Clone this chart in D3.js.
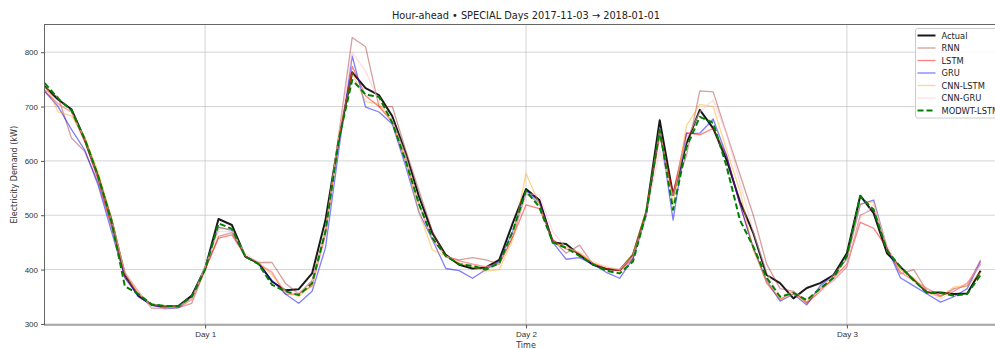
<!DOCTYPE html>
<html>
<head>
<meta charset="utf-8">
<script src="https://cdn.jsdelivr.net/npm/d3@7"></script>
<style>
  body { margin: 0; background: #fff; }
  svg { font-family: 'DejaVu Sans', sans-serif; }
</style>
</head>
<body>
<svg id="chart" width="995" height="349"></svg>
<script>
// hourly index 0..70, Day 1 starts at hour 12
const dayTicks = [12, 36, 60];
const dayLabels = ['Day 1', 'Day 2', 'Day 3'];
const yTicks = [300, 400, 500, 600, 700, 800];

const actual = [737, 713, 695, 639, 571, 491, 390, 352, 335, 332, 333, 352, 402, 493, 482, 424, 412, 378,
  362, 364, 393, 491, 640, 763, 734, 721, 682, 614, 534, 467, 427, 409, 402, 404, 418, 485,
  548, 528, 450, 447, 427, 409, 401, 399, 427, 507, 675, 537, 632, 694, 660, 602, 525,
  467, 390, 375, 347, 366, 375, 390, 430, 536, 504, 430, 405, 381, 358, 358, 355, 356, 398];
const rnn = [730, 718, 642, 617, 560, 480, 395, 360, 329, 328, 330, 338, 400, 461, 468, 425, 413, 413,
  375, 355, 380, 470, 650, 827, 810, 700, 700, 620, 545, 470, 423, 418, 422, 418, 410, 460,
  540, 522, 455, 430, 445, 410, 400, 398, 425, 505, 645, 540, 610, 729, 727, 650, 575,
  500, 410, 365, 360, 340, 365, 380, 405, 500, 512, 440, 392, 400, 360, 350, 365, 370, 418];
const lstm = [728, 705, 690, 635, 565, 480, 385, 355, 335, 332, 330, 345, 400, 458, 464, 425, 410, 395,
  355, 355, 370, 465, 640, 774, 720, 700, 672, 600, 520, 455, 425, 416, 410, 405, 410, 460,
  519, 512, 455, 438, 430, 412, 402, 398, 420, 505, 650, 540, 652, 648, 660, 610, 520,
  440, 375, 345, 360, 338, 360, 385, 410, 487, 476, 440, 395, 380, 365, 352, 360, 375, 410];
const gru = [728, 700, 658, 620, 555, 470, 385, 350, 335, 328, 330, 350, 405, 478, 472, 425, 410, 380,
  355, 338, 360, 440, 620, 793, 699, 690, 668, 590, 505, 455, 402, 398, 384, 400, 415, 470,
  545, 525, 450, 419, 422, 410, 395, 384, 420, 500, 660, 491, 650, 651, 677, 610, 520,
  440, 380, 342, 355, 335, 370, 390, 420, 520, 528, 440, 385, 370, 355, 340, 350, 365, 415];
const cnnLstm = [745, 690, 683, 645, 580, 495, 392, 355, 335, 333, 333, 348, 405, 475, 475, 425, 413, 390,
  360, 350, 372, 475, 645, 762, 709, 705, 670, 600, 505, 436, 425, 412, 405, 397, 400, 455,
  577, 520, 450, 442, 430, 412, 405, 399, 430, 510, 660, 520, 665, 704, 700, 620, 545,
  435, 380, 345, 355, 340, 365, 390, 420, 520, 525, 440, 400, 385, 357, 350, 368, 370, 395];
const cnnGru = [735, 705, 690, 640, 570, 490, 395, 360, 330, 328, 332, 345, 405, 470, 470, 430, 413, 395,
  360, 358, 375, 470, 650, 800, 765, 710, 675, 610, 520, 455, 425, 415, 410, 405, 410, 465,
  540, 537, 470, 440, 432, 415, 405, 400, 425, 500, 620, 535, 640, 690, 712, 650, 560,
  470, 395, 350, 360, 345, 360, 380, 408, 495, 520, 445, 395, 378, 365, 345, 362, 375, 410];
const modwt = [743, 715, 693, 640, 572, 488, 369, 355, 336, 333, 333, 350, 400, 485, 475, 424, 410, 372,
  360, 353, 375, 470, 640, 749, 722, 718, 670, 600, 520, 458, 425, 410, 407, 400, 412, 470,
  545, 515, 450, 440, 425, 410, 398, 393, 415, 505, 657, 510, 625, 681, 670, 590, 491,
  442, 385, 350, 357, 344, 365, 385, 425, 535, 510, 435, 405, 380, 357, 357, 352, 355, 390];

const series = [
  { name: 'Actual', values: actual, color: '#000', width: 2, opacity: 0.9, dash: null },
  { name: 'RNN', values: rnn, color: '#a52a2a', width: 1.3, opacity: 0.45, dash: null },
  { name: 'LSTM', values: lstm, color: '#ff0000', width: 1.3, opacity: 0.5, dash: null },
  { name: 'GRU', values: gru, color: '#0000ff', width: 1.3, opacity: 0.5, dash: null },
  { name: 'CNN-LSTM', values: cnnLstm, color: '#ffa500', width: 1.3, opacity: 0.45, dash: null },
  { name: 'CNN-GRU', values: cnnGru, color: '#ffc0cb', width: 1.3, opacity: 0.55, dash: null },
  { name: 'MODWT-LSTM', values: modwt, color: '#008000', width: 2, opacity: 1, dash: '6,3' }
];

const svg = d3.select('#chart');
const plotLeft = 44.5, plotTop = 24.5, plotBottom = 325, plotRight = 1010;

const x = d3.scaleLinear().domain([0, 70]).range([44.7, 980.6]);
const y = d3.scaleLinear().domain([298, 851]).range([plotBottom, plotTop]);

// grid
const grid = svg.append('g');
grid.selectAll('.hg')
  .data(yTicks)
  .enter()
  .append('line')
  .attr('x1', plotLeft).attr('x2', plotRight)
  .attr('y1', d => y(d)).attr('y2', d => y(d))
  .attr('stroke', '#b0b0b0').attr('stroke-opacity', 0.55).attr('stroke-width', 1);
grid.selectAll('.vg')
  .data(dayTicks)
  .enter()
  .append('line')
  .attr('x1', d => x(d)).attr('x2', d => x(d))
  .attr('y1', plotTop).attr('y2', plotBottom)
  .attr('stroke', '#b0b0b0').attr('stroke-opacity', 0.55).attr('stroke-width', 1);

// lines
const line = d3.line().x((d, i) => x(i)).y(d => y(d));
const lines = svg.append('g');
series.forEach(s => {
  lines.append('path')
    .datum(s.values)
    .attr('d', line)
    .attr('fill', 'none')
    .attr('stroke', s.color)
    .attr('stroke-opacity', s.opacity)
    .attr('stroke-width', s.width)
    .attr('stroke-linejoin', 'round')
    .attr('stroke-dasharray', s.dash);
});

// frame
svg.append('rect')
  .attr('x', plotLeft).attr('y', plotTop)
  .attr('width', plotRight - plotLeft).attr('height', plotBottom - plotTop)
  .attr('fill', 'none').attr('stroke', '#666').attr('stroke-width', 1);

// axes
const yAxis = d3.axisLeft(y).tickValues(yTicks).tickSize(3.5).tickPadding(3);
const yg = svg.append('g').attr('transform', `translate(${plotLeft},0)`).call(yAxis);
yg.select('.domain').remove();
yg.selectAll('text').attr('font-size', 8).attr('fill', '#333');
yg.selectAll('line').attr('stroke', '#555');

const xAxis = d3.axisBottom(x).tickValues(dayTicks).tickFormat((d, i) => dayLabels[i]).tickSize(3.5).tickPadding(2.5);
const xg = svg.append('g').attr('transform', `translate(0,${plotBottom})`).call(xAxis);
xg.select('.domain').remove();
xg.selectAll('text').attr('font-size', 8).attr('fill', '#333');
xg.selectAll('line').attr('stroke', '#555');

// labels
svg.append('text')
  .attr('x', x(36)).attr('y', 19)
  .attr('text-anchor', 'middle')
  .attr('font-size', 9.8).attr('fill', '#222')
  .text('Hour-ahead • SPECIAL Days 2017-11-03 → 2018-01-01');
svg.append('text')
  .attr('x', x(36)).attr('y', 348)
  .attr('text-anchor', 'middle')
  .attr('font-size', 8).attr('fill', '#333')
  .text('Time');
svg.append('text')
  .attr('transform', `translate(17,${(plotTop + plotBottom) / 2}) rotate(-90)`)
  .attr('text-anchor', 'middle')
  .attr('font-size', 8).attr('fill', '#333')
  .text('Electricity Demand (kW)');

// legend
const legend = svg.append('g').attr('transform', 'translate(915.5,28.5)');
legend.append('rect')
  .attr('width', 100).attr('height', 89.5)
  .attr('rx', 2)
  .attr('fill', '#fff').attr('fill-opacity', 0.85)
  .attr('stroke', '#ccc');
series.forEach((s, i) => {
  const g = legend.append('g').attr('transform', `translate(0,${7 + i * 12.5})`);
  g.append('line')
    .attr('x1', 2).attr('x2', 20)
    .attr('stroke', s.color)
    .attr('stroke-opacity', s.opacity)
    .attr('stroke-width', s.width)
    .attr('stroke-dasharray', s.dash);
  g.append('text')
    .attr('x', 26).attr('y', 3)
    .attr('font-size', 8.3).attr('fill', '#222')
    .text(s.name);
});
</script>
</body>
</html>
